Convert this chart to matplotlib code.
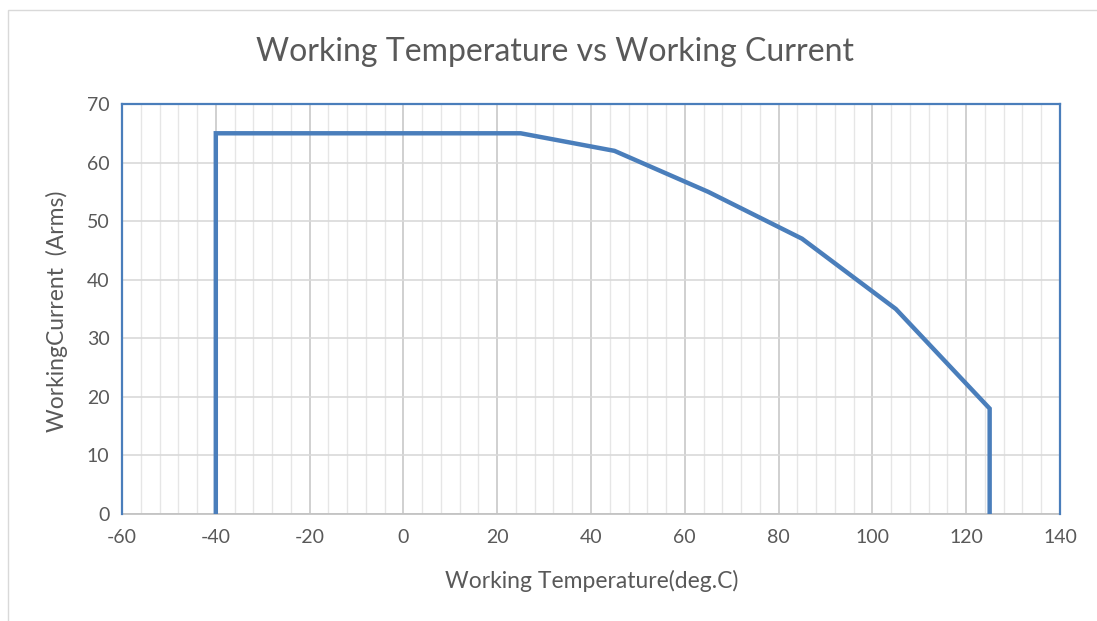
import matplotlib
matplotlib.use('Agg')
import matplotlib.pyplot as plt
from matplotlib.patches import Rectangle
import numpy as np

plt.rcParams['font.family'] = ['Lato', 'DejaVu Sans']
plt.rcParams['axes.unicode_minus'] = False

temp = [-40, -40, 25, 45, 65, 85, 105, 125, 125]
current = [0, 65, 65, 62, 55, 47, 35, 18, 0]

xticks = np.arange(-60, 141, 20)
yticks = np.arange(0, 71, 10)
grey = '#595959'
blue = '#4A7EBB'

fig = plt.figure(figsize=(10.97, 6.21), dpi=100)
# chart border
fig.patches.append(Rectangle((8 / 1097, -0.1), 1.2, 1.1 - 10 / 621,
                             transform=fig.transFigure, fill=False,
                             edgecolor='#d9d9d9', lw=1))

ax = fig.add_axes([122 / 1097, 1 - 514 / 621, 938 / 1097, 410 / 621])
ax.set_xlim(-60, 140)
ax.set_ylim(0, 70)

# grid
ax.set_xticks(xticks)
ax.set_yticks(yticks)
ax.set_xticks(np.arange(-60, 141, 4), minor=True)
ax.grid(which='major', axis='x', color='#c8c8c8', lw=1.2)
ax.grid(which='minor', axis='x', color='#e6e6e6', lw=1)
ax.grid(which='major', axis='y', color='#d9d9d9', lw=1.2)
ax.tick_params(which='both', length=0)
ax.tick_params(labelsize=14, labelcolor=grey)
ax.tick_params(axis='x', pad=11)
ax.tick_params(axis='y', pad=9)

ax.plot(temp, current, color=blue, lw=3.2, solid_joinstyle='miter', zorder=3)

for s in ['left', 'right', 'top']:
    ax.spines[s].set_color(blue)
    ax.spines[s].set_linewidth(1.6)
ax.spines['bottom'].set_color('#bfbfbf')
ax.spines['bottom'].set_linewidth(1.2)
ax.spines['bottom'].set_zorder(2)

fig.text(555 / 1097, 1 - 52 / 621, 'Working Temperature vs Working Current',
         ha='center', va='center', fontsize=23, color=grey)
fig.text(592 / 1097, 1 - 581 / 621, 'Working Temperature(deg.C)',
         ha='center', va='center', fontsize=16.5, color=grey)
fig.text(57 / 1097, 1 - 311 / 621, 'WorkingCurrent  (Arms)', rotation=90,
         ha='center', va='center', fontsize=16.5, color=grey)

fig.savefig('out.png', dpi=100)
